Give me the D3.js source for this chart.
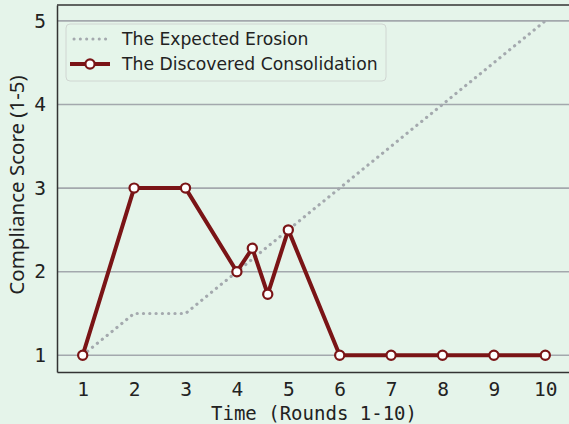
<!DOCTYPE html>
<html><head><meta charset="utf-8">
<script src="https://cdn.jsdelivr.net/npm/d3@7"></script>
<style>
html,body{margin:0;padding:0;background:#e5f4ea;}
svg{display:block;}
</style></head>
<body>
<script>
const expectedX = [1,2,3,4,5,6,7,8,9,10];
const expectedY = [1,1.5,1.5,2,2.5,3,3.5,4,4.5,5];
const discoveredX = [1,2,3,4,4.3,4.6,5,6,7,8,9,10];
const discoveredY = [1,3,3,2,2.28,1.73,2.5,1,1,1,1,1];
const xTicks = [1,2,3,4,5,6,7,8,9,10];
const yTicks = [1,2,3,4,5];
const seriesNames = ["The Expected Erosion","The Discovered Consolidation"];

const W=569,H=424;
const m={l:57,r:-2,t:5,b:52};
const svg=d3.select("body").append("svg").attr("width",W).attr("height",H);
svg.append("rect").attr("width",W).attr("height",H).attr("fill","#e5f4ea");
const x=d3.scaleLinear().domain([0.5,10.5]).range([m.l,W-m.r]);
const y=d3.scaleLinear().domain([0.8,5.19]).range([H-m.b,m.t]);
const red="#7a1416";

// grid
svg.append("g").selectAll("line").data(yTicks).join("line")
  .attr("x1",m.l).attr("x2",W-m.r).attr("y1",d=>y(d)).attr("y2",d=>y(d))
  .attr("stroke","#a3a8ad").attr("stroke-width",1.6);

// expected
const lineE=d3.line().x((d,i)=>x(expectedX[i])).y(d=>y(d));
svg.append("path").attr("d",lineE(expectedY)).attr("fill","none")
  .attr("stroke","#a4a9ae").attr("stroke-width",3.2).attr("stroke-dasharray","0.1 6.2")
  .attr("stroke-linecap","round");

// discovered
const lineD=d3.line().x((d,i)=>x(discoveredX[i])).y(d=>y(d));
svg.append("path").attr("d",lineD(discoveredY)).attr("fill","none")
  .attr("stroke",red).attr("stroke-width",4).attr("stroke-linejoin","round");
svg.append("g").selectAll("circle").data(discoveredY).join("circle")
  .attr("cx",(d,i)=>x(discoveredX[i])).attr("cy",d=>y(d)).attr("r",4.6)
  .attr("fill","#ffffff").attr("stroke",red).attr("stroke-width",2.2);

// axes
const xa=svg.append("g").attr("transform",`translate(0,${H-m.b})`)
  .call(d3.axisBottom(x).tickValues(xTicks).tickSize(0).tickPadding(10).tickFormat(d3.format("d")));
const ya=svg.append("g").attr("transform",`translate(${m.l},0)`)
  .call(d3.axisLeft(y).tickValues(yTicks).tickSize(0).tickPadding(11).tickFormat(d3.format("d")));
[xa,ya].forEach(a=>{
  a.select(".domain").attr("stroke","#333").attr("stroke-width",1.5);
  a.selectAll("text").attr("font-family","'DejaVu Sans Mono', monospace").attr("font-size",19.5).attr("fill","#222");
});
xa.selectAll("text").attr("dy","0.71em");
// top spine
svg.append("line").attr("x1",m.l).attr("x2",W).attr("y1",m.t).attr("y2",m.t)
  .attr("stroke","#333").attr("stroke-width",1.5);

// labels
svg.append("text").attr("x",x(5.5)).attr("y",420).attr("text-anchor","middle")
  .attr("font-family","'DejaVu Sans Mono', monospace").attr("font-size",19).attr("fill","#222")
  .text("Time (Rounds 1-10)");
svg.append("text").attr("transform",`translate(24,185) rotate(-90)`).attr("text-anchor","middle")
  .attr("font-family","'Noto Sans', sans-serif").attr("font-size",20.5).attr("fill","#222")
  .text("Compliance Score (1-5)");

// legend
const lg=svg.append("g");
lg.append("rect").attr("x",66).attr("y",24).attr("width",320).attr("height",57).attr("rx",4)
  .attr("fill","#e5f4ea").attr("fill-opacity",0.85).attr("stroke","#d0d6d2").attr("stroke-width",1);
lg.append("line").attr("x1",74).attr("x2",106).attr("y1",39).attr("y2",39)
  .attr("stroke","#a4a9ae").attr("stroke-width",3).attr("stroke-dasharray","0.1 6.2").attr("stroke-linecap","round");
lg.append("line").attr("x1",70).attr("x2",110).attr("y1",64).attr("y2",64)
  .attr("stroke",red).attr("stroke-width",4);
lg.append("circle").attr("cx",90).attr("cy",64).attr("r",4.6).attr("fill","#fff").attr("stroke",red).attr("stroke-width",2.2);
lg.selectAll("text.l").data(seriesNames).join("text").attr("class","l")
  .attr("x",122).attr("y",(d,i)=>39+i*25).attr("dy","0.35em")
  .attr("font-family","'DejaVu Sans', sans-serif").attr("font-size",17.2).attr("fill","#222")
  .text(d=>d);
</script>
</body></html>
